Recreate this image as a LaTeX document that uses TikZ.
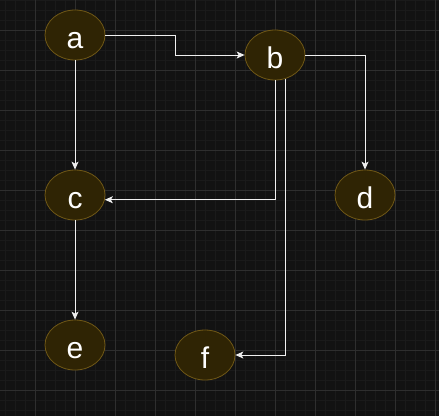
\documentclass[tikz,border=0pt]{standalone}
\usepackage{fontspec}
\setmainfont{Liberation Sans}
\usetikzlibrary{shapes.geometric,arrows.meta}
\definecolor{bgc}{RGB}{18,18,18}
\definecolor{minorc}{RGB}{26,26,26}
\definecolor{majorc}{RGB}{46,46,46}
\definecolor{nodefill}{RGB}{47,36,4}
\definecolor{nodeline}{RGB}{112,88,22}
\definecolor{edgec}{RGB}{240,240,240}
\tikzset{
  vnode/.style={ellipse, draw=nodeline, fill=nodefill, line width=0.8pt,
    minimum width=60pt, minimum height=50pt, inner sep=0pt,
    text=white, font=\fontsize{30}{36}\selectfont,
    text height=26pt, text depth=0pt},
  edge/.style={draw=edgec, line width=1pt,
    -{Stealth[length=8pt,width=7pt,inset=2pt]}}
}
\begin{document}
\begin{tikzpicture}[x=1pt,y=-1pt]
  \fill[bgc] (0,0) rectangle (439,416);
  \useasboundingbox (0,0) rectangle (439,416);
  \begin{scope}
    \clip (0,0) rectangle (439,416);
    \foreach \x in {5,15,...,435} \draw[minorc, line width=0.6pt] (\x,0) -- (\x,416);
    \foreach \y in {0,10,...,410} \draw[minorc, line width=0.6pt] (0,\y) -- (439,\y);
    \foreach \x in {35,75,...,435} \draw[majorc, line width=0.8pt] (\x,0) -- (\x,416);
    \foreach \y in {30,70,...,390} \draw[majorc, line width=0.8pt] (0,\y) -- (439,\y);
  \end{scope}

  \node[vnode] (a) at (75,35) {a};
  \node[vnode] (b) at (275,55) {b};
  \node[vnode] (c) at (75,195) {c};
  \node[vnode] (d) at (365,195) {d};
  \node[vnode] (e) at (75,345) {e};
  \node[vnode] (f) at (205,355) {f};

  \draw[edge] (a.east) -- ++(70,0) |- (b.west);
  \draw[edge] (a.south) -- (c.north);
  \draw[edge] (b.east) -| (d.north);
  \draw[edge] (b.south) |- (c.-9.65);
  \draw[edge] (b.-67) |- (f.east);
  \draw[edge] (c.south) -- (e.north);
\end{tikzpicture}
\end{document}
